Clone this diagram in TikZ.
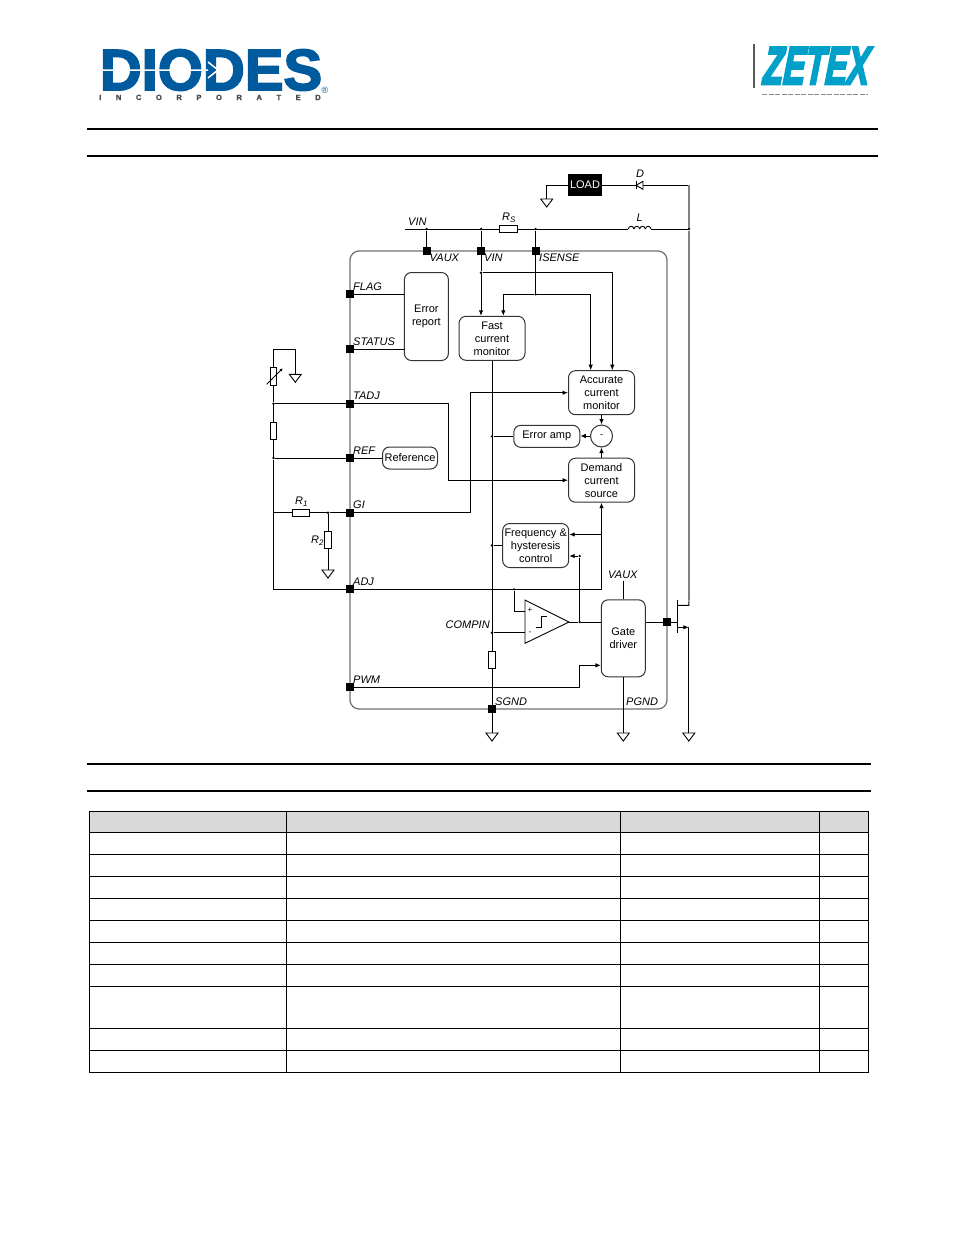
\documentclass[tikz,border=0pt]{standalone}
\usepackage{fontspec}
\setmainfont{Liberation Sans}
\newfontfamily\logofont[BoldFeatures={FakeBold=3},BoldItalicFeatures={FakeBold=5,FakeSlant=.12}]{Liberation Sans}
\newfontfamily\subfont[BoldFeatures={FakeBold=2}]{Liberation Sans}
\usetikzlibrary{positioning,arrows.meta,calc}
\definecolor{diodesblue}{HTML}{005A9E}
\definecolor{zetexblue}{HTML}{00A0C8}
\definecolor{headgrey}{HTML}{D9D9D9}
\tikzset{block/.style={draw=black!80,rounded corners=7,line width=1pt,inner sep=0,align=center,font=\fontsize{11}{13}\selectfont}}
\tikzset{pinbox/.style={fill=black,inner sep=0,minimum size=8pt}}
\tikzset{dotnode/.style={circle,fill=black,inner sep=0,minimum size=2.6pt}}
\tikzset{resbox/.style={draw,line width=.9pt,inner sep=0}}
\tikzset{wire/.style={line width=.9pt}}
\tikzset{arrowwire/.style={line width=.9pt,-{Latex[length=5.5pt,width=4.5pt]}}}
\tikzset{greywire/.style={line width=1.4pt,black!50}}
\tikzset{lbl/.style={inner sep=0,anchor=west,font=\fontsize{11}{13}\selectfont\itshape}}
\tikzset{rulebar/.style={line width=2pt}}
\tikzset{tabline/.style={line width=1pt}}
\newcommand{\subR}[1]{\textit{R}\raisebox{-1.5pt}{\fontsize{8}{8}\selectfont\textit{#1}}}

\begin{document}
\begin{tikzpicture}[x=1pt,y=-1pt]
  \useasboundingbox (0,0) rectangle (954,1235);
  \fill[white] (0,0) rectangle (954,1235);

  % logos
  \node[inner sep=0,anchor=base,text=diodesblue,font=\fontsize{58}{58}\selectfont\logofont\bfseries] (logoDiodes) at (211,90) {DIODES};
  \draw[white,line width=1.5pt] (100,70) -- (208,70) (208,62) -- (218,70) -- (208,78);
  \node[inner sep=0,anchor=base,text=black!70,font=\fontsize{7.5}{8}\selectfont\subfont\bfseries] (logoInc) at (210,100) {\spaceskip=14.6pt\relax I N C O R P O R A T E D};
  \node[inner sep=0,text=diodesblue,font=\fontsize{9}{9}\selectfont] (logoReg) at (325,90) {®};
  \node[inner sep=0,anchor=base,text=zetexblue,xscale=.62,transform shape,font=\fontsize{53}{53}\selectfont\logofont\bfseries\itshape] (logoZetex) at (815.5,84) {ZETEX};
  \draw[line width=1.3pt,black!65] (754,44) -- (754,88);
  \draw[black!45,line width=.8pt,dash pattern=on 5pt off 1.5pt] (762,94) -- (868,94);

  % rules
  \foreach \y in {129,156}
    \draw[rulebar] (87,\y) -- (878,\y);
  \foreach \y in {764,791}
    \draw[rulebar] (87,\y) -- (871,\y);

  % table
  \fill[headgrey] (89.5,811.5) rectangle (868.5,832.5);
  \foreach \y in {811.5,832.5,854.5,876.5,898.5,920.5,942.5,964.5,986.5,1028.5,1050.5,1072.5}
    \draw[tabline] (89,\y) -- (869,\y);
  \foreach \x in {89.5,286.5,620.5,819.5,868.5}
    \draw[tabline] (\x,811) -- (\x,1073);

  % chip outline
  \draw[line width=1.3pt,black!55,rounded corners=9] (350,251) rectangle (667,709);

  % blocks
  \node[block,minimum width=44pt,minimum height=88pt] (errReport) at (426.4,316.5) {Error\\report};
  \node[block,minimum width=66pt,minimum height=44pt] (fastMon) at (492,338.3) {Fast\\current\\monitor};
  \node[block,minimum width=66pt,minimum height=44pt] (accMon) at (601.5,392.7) {Accurate\\current\\monitor};
  \node[block,minimum width=66pt,minimum height=22pt] (errAmp) at (546.8,436.3) {Error amp};
  \node[block,minimum width=66pt,minimum height=44pt] (demand) at (601.5,480.2) {Demand\\current\\source};
  \node[block,minimum width=66pt,minimum height=44pt] (freqHyst) at (535.7,545.5) {Frequency \&\\hysteresis\\control};
  \node[block,minimum width=44pt,minimum height=77pt] (gateDrv) at (623.3,638.3) {Gate\\driver};
  \node[block,minimum width=55pt,minimum height=22pt] (refBlock) at (410,458) {Reference};
  \node[draw=black!80,circle,line width=1pt,minimum size=22pt,inner sep=0,font=\fontsize{9}{9}\selectfont] (sumNode) at (601.5,436) {-};
  \node[fill=black,text=white,inner sep=0,minimum width=34pt,minimum height=22.5pt,font=\fontsize{11}{13}\selectfont] (loadBox) at (585,185) {LOAD};

  % resistors
  \node[resbox,minimum width=18pt,minimum height=7pt] (rSense) at (508.3,229) {};
  \node[resbox,minimum width=6.5pt,minimum height=18pt] (rPot) at (273.5,376.5) {};
  \node[resbox,minimum width=6.5pt,minimum height=17pt] (rDiv) at (273.5,430.8) {};
  \node[resbox,minimum width=17.5pt,minimum height=6.5pt] (rOne) at (301,512.7) {};
  \node[resbox,minimum width=6.5pt,minimum height=17pt] (rTwo) at (328,539.8) {};
  \node[resbox,minimum width=7pt,minimum height=17.5pt] (rComp) at (492,660) {};

  % pins
  \foreach \name/\x/\y in {pVaux/426.7/251,pVin/481/251,pSense/535.7/251,pFlag/350/294,pStatus/350/349,pTadj/350/403.7,
    pRef/350/458,pGi/350/512.7,pAdj/350/589.3,pPwm/350/687.3,pSgnd/492/709,pGate/667/622}
    \node[pinbox] (\name) at (\x,\y) {};

  % junctions
  \foreach \name/\x/\y in {jVaux/426.7/229,jVin/481/229,jSense/535.7/229,jCoil/689/229,jVinB/481/272.7,jSenseB/535.7/294.3,
    jTadj/273.5/403.7,jRef/273.5/458,jRone/328/512.7,jErrAmp/492/436.3,jFreq/492/545.5,jComp/492/632.7,jAdj/514/589.3,
    jOut/579.7/622,jFeed/579.7/556}
    \node[dotnode] (\name) at (\x,\y) {};

  % free ends and corners
  \foreach \name/\x/\y in {vinL/404.7/229,coilW/628.3/229,coilE/651/229,dA/643/185.3,dK/636/185.3,fetG/677.5/622,
    fetD/688.8/605.3,fetS/688.8/627.3,fetTop/677.5/600,fetBot/677.5/632.7,cmpP/525/611.7,cmpM/525/632.7,cmpO/569/622,
    vauxEnd/623.3/581,netTop/273.5/349.3,tCorner/448.3/403.7,tCornerB/448.3/480.2,gCorner/470.7/512.7,gCornerB/470.7/392.7,
    adjCorner/601.5/589.3,adjFreq/601.5/534.5,pwmCorner/579.3/687.3,pwmCornerB/579.3/665.3,vinTurn/612.3/272.7,
    senseL/503.3/294.3,senseR/590.7/294.3,drainCorner/689/600,drainIn/678/600,loadTurn/546.7/185.3,
    potA/266.7/384.3,potB/282.7/368.3}
    \coordinate (\name) at (\x,\y);

  % grounds
  \foreach \name/\x/\y in {gLoad/546.7/199,gPot/295.3/374.3,gTwo/328/570,gSgnd/492/733,gPgnd/623.3/733,gFet/688.8/733} {
    \coordinate (\name) at (\x,\y);
    \draw[wire] (\name) ++(-6,0) -- ++(12,0) -- ++(-6,8) -- cycle;
  }

  % supply side
  \draw[wire] (vinL) -- (rSense.west) (rSense.east) -- (coilW) (coilE) -- (jCoil);
  \foreach \k in {0,1,2,3}
    \draw[wire] ({628.3+5.675*\k},229) .. controls ({628.9+5.675*\k},225.4) and ({633.4+5.675*\k},225.4) .. ({634+5.675*\k},229);
  \draw[wire] (jVaux) -- (pVaux);
  \draw[wire] (loadBox.west |- loadTurn) -- (loadTurn) -- (gLoad);
  \draw[wire] (loadBox.east |- dK) -- (dK) (dA) -- (dA -| jCoil);
  \draw[wire] (dK) -- (dA |- 0,181.3) -- (dA |- 0,189.3) -- cycle;
  \draw[wire] (dK |- 0,181.3) -- (dK |- 0,189.3);
  \draw[greywire] (dA -| jCoil) -- (jCoil) -- (drainCorner);
  \draw[wire] (jVin) -- (pVin);
  \draw[wire] (jSense) -- (pSense);

  % current sensing
  \draw[arrowwire] (pVin) -- (jVinB) -- (fastMon.north -| jVinB);
  \draw[arrowwire] (jVinB) -- (vinTurn) -- (accMon.north -| vinTurn);
  \draw[wire] (pSense) -- (jSenseB);
  \draw[arrowwire] (jSenseB) -- (senseL) -- (fastMon.north -| senseL);
  \draw[arrowwire] (jSenseB) -- (senseR) -- (accMon.north -| senseR);
  \draw[wire] (fastMon.south) -- (rComp.north) (rComp.south) -- (pSgnd) -- (gSgnd);
  \draw[arrowwire] (accMon.south) -- (sumNode.north);
  \draw[arrowwire] (demand.north) -- (sumNode.south);
  \draw[arrowwire] (sumNode.west) -- (errAmp.east |- sumNode);
  \draw[wire] (errAmp.west) -- (jErrAmp);

  % left pins
  \draw[wire] (pFlag) -- (pFlag -| errReport.west);
  \draw[wire] (pStatus) -- (pStatus -| errReport.west);
  \draw[arrowwire] (pTadj) -- (tCorner) -- (tCornerB) -- (demand.west);
  \draw[arrowwire] (pGi) -- (gCorner) -- (gCornerB) -- (accMon.west);
  \draw[wire] (jRef) -- (pRef) -- (refBlock.west);

  % external network
  \draw[wire] (gPot) -- (gPot |- netTop) -- (netTop) -- (rPot.north);
  \draw[wire] (rPot.south) -- (jTadj) -- (rDiv.north);
  \draw[wire] (rDiv.south) -- (jRef);
  \draw[wire] (jRef) -- (jRef |- pAdj) -- (pAdj);
  \draw[wire] (jTadj) -- (pTadj);
  \draw[wire] (jRef |- pGi) -- (rOne.west) (rOne.east) -- (jRone) -- (pGi);
  \draw[wire] (jRone) -- (rTwo.north) (rTwo.south) -- (gTwo);
  \draw[wire,-{Latex[length=3pt,width=3pt]}] (potA) -- (potB);

  % adj line and comparator
  \draw[arrowwire] (pAdj) -- (adjCorner) -- (demand.south -| adjCorner);
  \draw[arrowwire] (adjFreq) -- (freqHyst.east |- adjFreq);
  \draw[wire] (freqHyst.west) -- (jFreq);
  \draw[wire] (jAdj) -- (jAdj |- cmpP) -- (cmpP);
  \draw[wire] (jComp) -- (cmpM);
  \draw[wire] (525,600) -- (525,643.3) -- (cmpO) -- cycle;
  \draw[wire] (535.7,627.3) -- (541,627.3) -- (541,616.7) -- (547,616.7);
  \node[inner sep=0,font=\fontsize{8}{8}\selectfont] (cmpPlus) at (530,610.5) {+};
  \node[inner sep=0,font=\fontsize{8}{8}\selectfont] (cmpMinus) at (530,633.5) {-};
  \draw[wire] (cmpO) -- (jOut) -- (jOut -| gateDrv.west);
  \draw[arrowwire] (jOut) -- (jFeed) -- (freqHyst.east |- jFeed);

  % gate driver and switch
  \draw[arrowwire] (pPwm) -- (pwmCorner) -- (pwmCornerB) -- (gateDrv.west |- pwmCornerB);
  \draw[wire] (gateDrv.north) -- (vauxEnd);
  \draw[wire] (gateDrv.south) -- (gPgnd);
  \draw[wire] (jOut -| gateDrv.east) -- (pGate) -- (fetG);
  \draw[wire] (fetTop) -- (fetBot);
  \draw[wire] (fetTop |- fetD) -- (fetD) -- (drainCorner);
  \draw[arrowwire] (fetTop |- fetS) -- (fetS);
  \draw[wire] (fetS) -- (gFet);

  % labels
  \foreach \name/\x/\y/\txt in {lVin/408/221.5/VIN,lVaux/429.5/257.5/VAUX,lVinPin/484/257.5/VIN,lSense/539/257.5/ISENSE,
    lFlag/353/286.5/FLAG,lStatus/353/341.5/STATUS,lTadj/353/395.5/TADJ,lRef/353/450.5/REF,lGi/353/504.5/GI,lAdj/353/581.5/ADJ,
    lPwm/353/679.5/PWM,lSgnd/495/701.5/SGND,lPgnd/626/701.5/PGND,lVauxTop/608/574.5/VAUX,lCompin/445.5/624.5/COMPIN,lInd/636.5/217.5/L,lDiode/636/173.5/D,
    lRs/502/217.5/\subR{S},lRone/295/501.5/\subR{1},lRtwo/311/540.5/\subR{2}}
    \node[lbl] (\name) at (\x,\y) {\txt};
\end{tikzpicture}
\end{document}
